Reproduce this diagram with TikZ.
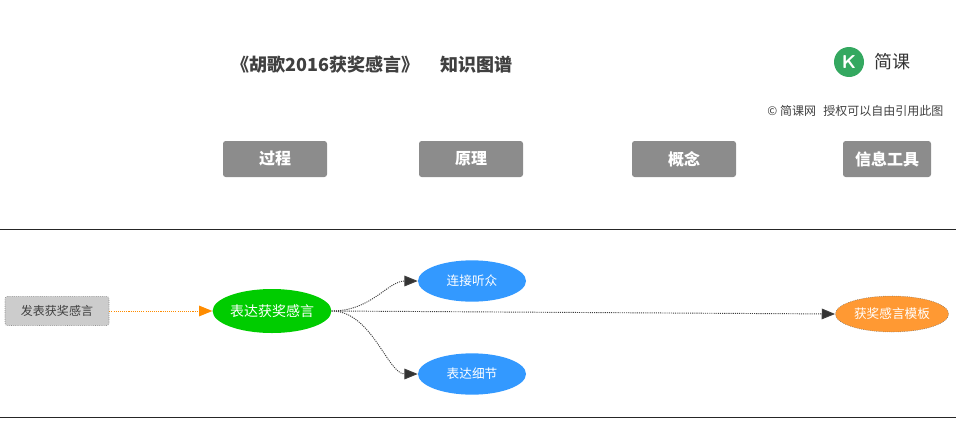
\documentclass[tikz,border=0pt]{standalone}
\usepackage{fontspec}
\setmainfont{Noto Sans CJK SC}
\usetikzlibrary{shapes.geometric,arrows.meta}
\begin{document}
\begin{tikzpicture}[x=0.75pt,y=-0.75pt,
 btn/.style={fill=black!45,rounded corners=2pt,minimum height=27pt,text=white,font=\bfseries\fontsize{12}{12}\selectfont,inner sep=0pt},
 ell/.style={ellipse,inner sep=0pt,text=white,font=\fontsize{9.5}{10}\selectfont},
 con/.style={draw=black!75,line width=0.7pt,dash pattern=on 0.8pt off 0.8pt,-{Triangle[length=10pt,width=8pt,fill=black!80]}}]
\useasboundingbox (0,0) rectangle (956,446);
\node[font=\bfseries\fontsize{13.5}{14}\selectfont,text=black!75] (title) at (372,65) {《胡歌2016获奖感言》\hspace{1.2em}知识图谱};
\node[circle,fill={rgb,255:red,52;green,168;blue,96},minimum size=30*0.75pt,inner sep=0pt,text=white,font=\bfseries\sffamily\fontsize{14}{14}\selectfont] (logo) at (849,62) {K};
\node[font=\fontsize{13.5}{14}\selectfont,text=black!80] (jk) at (892,62) {简课};
\node[anchor=east,font=\fontsize{9}{10}\selectfont,text=black!75] (cr) at (948,111) {© 简课网\hspace{0.6em}授权可以自由引用此图};
\node[btn,minimum width=78pt] (b1) at (275,159) {过程};
\node[btn,minimum width=78pt] (b2) at (471,159) {原理};
\node[btn,minimum width=78pt] (b3) at (684,159) {概念};
\node[btn,minimum width=66pt] (b4) at (887,159) {信息工具};
\draw[black!85] (0,229) -- (956,229);
\draw[black!85] (0,417) -- (956,417);
\node[draw=black!60,densely dotted,fill=black!20,rounded corners=2pt,minimum width=78pt,minimum height=22pt,inner sep=0pt,text=black!75,font=\fontsize{9}{10}\selectfont] (src) at (57,311) {发表获奖感言};
\node[ell,fill={rgb,255:red,0;green,204;blue,0},minimum width=84pt,minimum height=33pt,font=\fontsize{10.5}{11}\selectfont] (main) at (272,311) {表达获奖感言};
\node[ell,fill={rgb,255:red,51;green,153;blue,255},minimum width=81pt,minimum height=31pt] (a) at (472,281) {连接听众};
\node[ell,fill={rgb,255:red,51;green,153;blue,255},minimum width=81pt,minimum height=31pt] (b) at (472,374) {表达细节};
\node[ell,draw=black!60,densely dotted,fill={rgb,255:red,255;green,153;blue,51},minimum width=85pt,minimum height=27pt] (c) at (892,314) {获奖感言模板};
\draw[draw={rgb,255:red,255;green,140;blue,0},line width=0.7pt,dash pattern=on 0.8pt off 0.8pt,-{Triangle[length=10pt,width=8pt,fill={rgb,255:red,255;green,140;blue,0}]}] (src) -- (main);
\draw[con] (main.east) .. controls +(40,0) and +(-30,0) .. (a.west);
\draw[con] (main.east) .. controls +(40,0) and +(-30,0) .. (b.west);
\draw[con] (main.east) -- (c.west);
\end{tikzpicture}
\end{document}
